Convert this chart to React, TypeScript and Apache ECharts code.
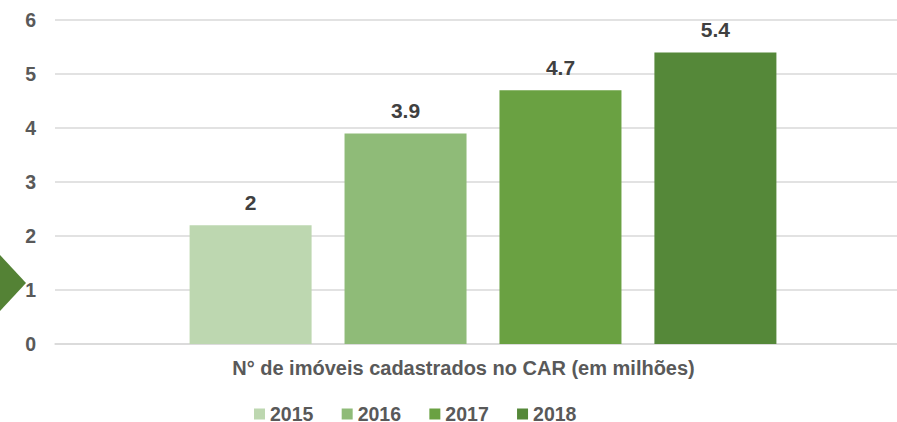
import React, { useEffect, useRef } from "react";
import * as echarts from "echarts";

const categories = ["N° de imóveis cadastrados no CAR (em milhões)"];
const seriesNames = ["2015", "2016", "2017", "2018"];
const seriesValues = [2.2, 3.9, 4.7, 5.4];
const valueLabels = ["2", "3.9", "4.7", "5.4"];
const colors = ["#bdd7b0", "#8fbb78", "#6aa142", "#558839"];

export default function App() {
  const ref = useRef<HTMLDivElement>(null);
  useEffect(() => {
    if (!ref.current) return;
    const chart = echarts.init(ref.current, undefined, { renderer: "svg" });
    const font = "'Liberation Sans', Arial, sans-serif";
    chart.setOption({
      animation: false,
      grid: { left: 55, top: 20, width: 856, height: 324, containLabel: false },
      legend: {
        data: seriesNames,
        top: 400,
        left: 250,
        icon: "rect",
        itemWidth: 11,
        itemHeight: 11,
        itemGap: 28.3,
        padding: 4,
        textStyle: {
          fontFamily: font,
          fontWeight: "bold",
          fontSize: 19.5,
          color: "#595959",
        },
      },
      xAxis: {
        type: "category",
        data: categories,
        axisLine: { lineStyle: { color: "#d9d9d9", width: 1.5 } },
        axisTick: { show: false },
        axisLabel: {
          margin: 14,
          fontFamily: font,
          fontWeight: "bold",
          fontSize: 20,
          color: "#595959",
          interval: 0,
          padding: [0, 39, 0, 0],
        },
      },
      yAxis: {
        type: "value",
        min: 0,
        max: 6,
        interval: 1,
        axisLine: { show: false },
        axisTick: { show: false },
        splitLine: { lineStyle: { color: "#d9d9d9", width: 1.5 } },
        axisLabel: {
          margin: 19,
          fontFamily: font,
          fontWeight: "bold",
          fontSize: 19.5,
          color: "#595959",
        },
      },
      series: seriesNames.map((name, i) => ({
        name,
        type: "bar",
        data: [seriesValues[i]],
        barWidth: 122,
        barGap: "27%",
        itemStyle: { color: colors[i] },
        label: {
          show: true,
          position: "top",
          distance: 12.5,
          formatter: () => valueLabels[i],
          fontFamily: font,
          fontWeight: "bold",
          fontSize: 21,
          color: "#404040",
        },
      })),
      graphic: [
        {
          type: "polygon",
          shape: { points: [[0, 255], [26, 283], [0, 311]] },
          style: { fill: "#548235" },
          z: 100,
        },
      ],
    });
    return () => chart.dispose();
  }, []);
  return (
    <div style={{ position: "fixed", left: 0, top: 0, width: 897, height: 422, overflow: "hidden", background: "#fff" }}>
      <div ref={ref} style={{ position: "absolute", left: 0, top: 0, width: 940, height: 422 }} />
    </div>
  );
}
